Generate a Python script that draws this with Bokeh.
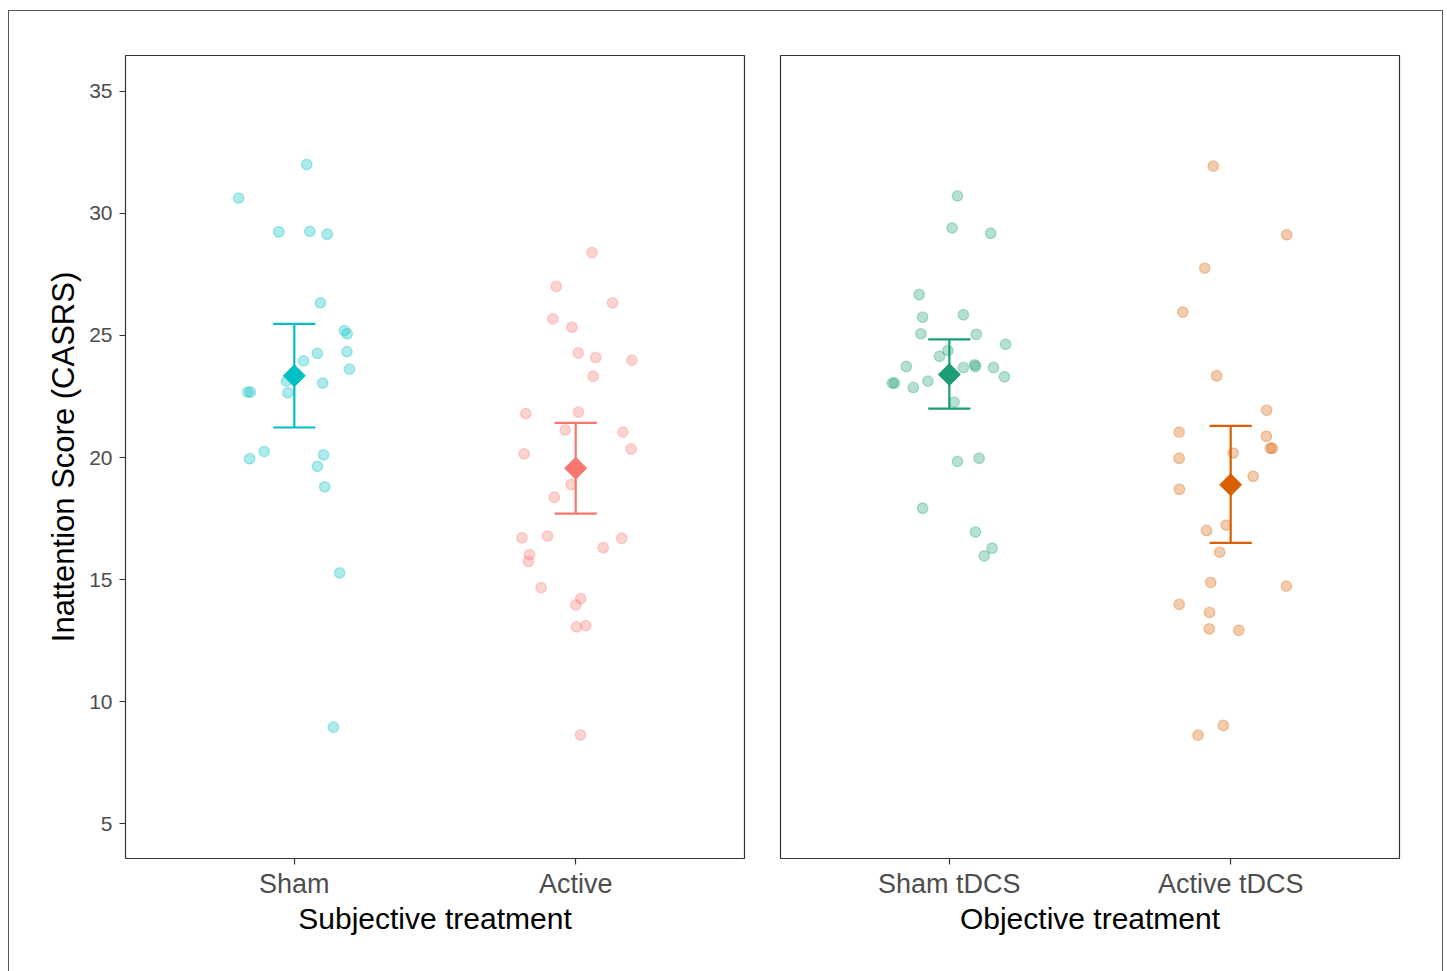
import numpy as np
from bokeh.plotting import figure
from bokeh.layouts import row
from bokeh.models import Range1d, FixedTicker, ColumnDataSource, InlineStyleSheet
from bokeh.embed import file_html
from bokeh.resources import INLINE

# ---------------- data ----------------
# panel 1: Subjective treatment
sham_dx = [0.044, -0.198, -0.055, 0.055, 0.117, 0.093, 0.178, 0.188, 0.082, 0.187, 0.033, 0.196,
           -0.028, 0.101, -0.166, -0.156, -0.023, -0.159, -0.107, 0.104, 0.082, 0.108, 0.161, 0.139]
sham_y = [32.01, 30.63, 29.25, 29.27, 29.15, 26.34, 25.20, 25.07, 24.27, 24.34, 23.96, 23.62,
          23.13, 23.05, 22.68, 22.68, 22.65, 19.95, 20.25, 20.11, 19.64, 18.80, 15.27, 8.95]

active_dx = [0.058, -0.069, 0.131, -0.081, -0.013, 0.009, 0.071, 0.200, 0.062, -0.177, 0.010, -0.037,
             0.168, 0.197, -0.183, -0.016, -0.076, -0.191, -0.100, 0.164, 0.098, -0.164, -0.168,
             -0.123, 0.018, 0.001, 0.003, 0.036, 0.017]
active_y = [28.40, 27.01, 26.34, 25.68, 25.34, 24.29, 24.10, 23.99, 23.33, 21.80, 21.86, 21.13,
            21.04, 20.35, 20.15, 18.89, 18.37, 16.71, 16.78, 16.69, 16.31, 16.02, 15.74,
            14.67, 14.22, 13.96, 13.06, 13.11, 8.63]

# panel 2: Objective treatment
shamt_dx = [0.029, 0.010, 0.147, -0.107, -0.095, 0.050, -0.101, 0.096, 0.200, -0.005, -0.035, -0.153,
            0.050, 0.090, 0.093, 0.157, 0.196, -0.202, -0.195, -0.076, -0.128, 0.017, 0.029, 0.106,
            -0.095, 0.093, 0.152, 0.124]
shamt_y = [30.72, 29.41, 29.19, 26.68, 25.75, 25.85, 25.07, 25.05, 24.64, 24.39, 24.15, 23.73,
           23.69, 23.80, 23.73, 23.69, 23.31, 23.05, 23.05, 23.13, 22.87, 22.27, 19.84, 19.97,
           17.92, 16.95, 16.28, 15.97]

activet_dx = [-0.062, 0.199, -0.092, -0.170, -0.050, 0.128, -0.183, 0.127, 0.141, 0.148, 0.009, -0.183,
              0.080, -0.182, -0.016, -0.086, -0.039, -0.071, 0.198, -0.183, -0.075, -0.076, 0.029,
              -0.026, -0.116]
activet_y = [31.94, 29.13, 27.76, 25.96, 23.35, 21.94, 21.04, 20.87, 20.38, 20.38, 20.18, 19.97,
             19.23, 18.70, 17.23, 17.01, 16.12, 14.88, 14.73, 13.98, 13.65, 12.98, 12.92,
             9.02, 8.62]

# summaries: mean and error bar bounds
subj_labels = ["Sham", "Active"]
subj_mean = [23.35, 19.56]
subj_lo = [21.23, 17.70]
subj_hi = [25.48, 21.42]

obj_labels = ["Sham tDCS", "Active tDCS"]
obj_mean = [23.40, 18.88]
obj_lo = [22.00, 16.50]
obj_hi = [24.84, 21.30]

subj_colors = ["#00BFC4", "#F8766D"]
obj_colors = ["#1B9E77", "#D95F02"]

y_ticks = [5, 10, 15, 20, 25, 30, 35]

FONT = "Liberation Sans"
yr = Range1d(3.566, 36.475)
H = 971


def make_panel(width, bl, br, labels, groups, means, los, his, colors, xtitle, show_y):
    p = figure(width=width, height=H, x_range=Range1d(0.4, 2.6), y_range=yr,
               output_backend="svg", toolbar_location=None,
               min_border_left=bl, min_border_right=br, min_border_top=55,
               min_border_bottom=H - 55 - 803)
    p.xgrid.visible = False
    p.ygrid.visible = False
    p.outline_line_color = "#333333"
    p.outline_line_width = 1.2
    p.background_fill_color = "white"
    p.border_fill_color = "white"

    for i, ((dx, ys), col) in enumerate(zip(groups, colors)):
        xs = [i + 1 + d for d in dx]
        p.scatter(xs, ys, size=10.5, fill_color=col, fill_alpha=0.32,
                  line_color=col, line_alpha=0.32, line_width=1.3)

    xc = [1, 2]
    src = ColumnDataSource(dict(x=xc, m=means, lo=los, hi=his, c=colors,
                                x0=[v - 0.075 for v in xc], x1=[v + 0.075 for v in xc]))
    p.segment(x0="x", y0="lo", x1="x", y1="hi", line_color="c", line_width=2.2, source=src)
    p.segment(x0="x0", y0="lo", x1="x1", y1="lo", line_color="c", line_width=2.2, source=src)
    p.segment(x0="x0", y0="hi", x1="x1", y1="hi", line_color="c", line_width=2.2, source=src)
    p.scatter(x="x", y="m", marker="square", angle=np.pi / 4, size=15.5,
              fill_color="c", line_color="c", line_width=1, source=src)

    xa = p.xaxis[0]
    xa.ticker = FixedTicker(ticks=[1, 2])
    xa.major_label_overrides = {1: labels[0], 2: labels[1]}
    xa.axis_line_color = None
    xa.major_tick_line_color = "#333333"
    xa.major_tick_line_width = 1.2
    xa.major_tick_out = 6
    xa.major_tick_in = 0
    xa.minor_tick_line_color = None
    xa.major_label_text_font = FONT
    xa.major_label_text_font_size = "27px"
    xa.major_label_text_color = "#4D4D4D"
    xa.major_label_standoff = 4
    xa.axis_label = xtitle
    xa.axis_label_text_font = FONT
    xa.axis_label_text_font_size = "30px"
    xa.axis_label_text_font_style = "normal"
    xa.axis_label_text_color = "black"
    xa.axis_label_standoff = 0

    ya = p.yaxis[0]
    if show_y:
        ya.ticker = FixedTicker(ticks=y_ticks)
        ya.axis_line_color = None
        ya.major_tick_line_color = "#333333"
        ya.major_tick_line_width = 1.2
        ya.major_tick_out = 6
        ya.major_tick_in = 0
        ya.minor_tick_line_color = None
        ya.major_label_text_font = FONT
        ya.major_label_text_font_size = "21px"
        ya.major_label_text_color = "#4D4D4D"
        ya.major_label_standoff = 7
        ya.axis_label = "Inattention Score (CASRS)"
        ya.axis_label_text_font = FONT
        ya.axis_label_text_font_size = "31px"
        ya.axis_label_text_font_style = "normal"
        ya.axis_label_text_color = "black"
        ya.axis_label_standoff = 5
    else:
        ya.visible = False
    return p


W1 = 762
W2 = 1447 - W1
p1 = make_panel(W1, 125, W1 - 125 - 619, subj_labels,
                [(sham_dx, sham_y), (active_dx, active_y)],
                subj_mean, subj_lo, subj_hi, subj_colors, "Subjective treatment", True)
p2 = make_panel(W2, 18, W2 - 18 - 619, obj_labels,
                [(shamt_dx, shamt_y), (activet_dx, activet_y)],
                obj_mean, obj_lo, obj_hi, obj_colors, "Objective treatment", False)

frame_css = InlineStyleSheet(css="""
:host { position: relative; overflow: hidden; }
:host::after {
  content: "";
  position: absolute;
  left: 8px; top: 10px; right: 4px; bottom: -6px;
  border: 1px solid #555555;
  pointer-events: none;
  z-index: 10;
}
""")

layout = row(p1, p2, width=1447, height=H, stylesheets=[frame_css])

open("out.html", "w").write(file_html(layout, INLINE))
